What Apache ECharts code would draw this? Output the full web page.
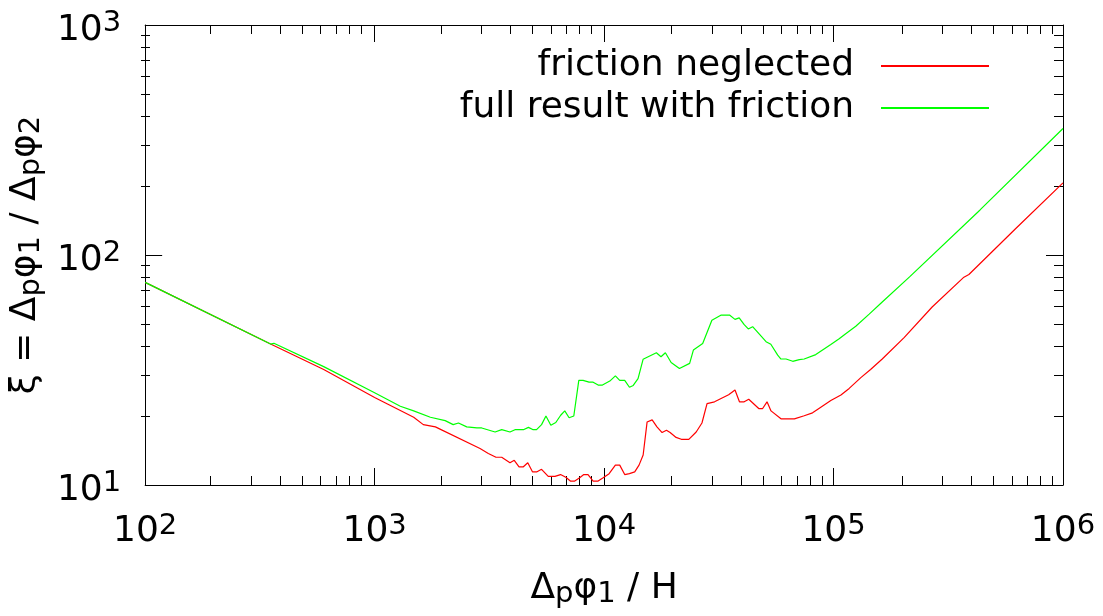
<!DOCTYPE html>
<html>
<head>
<meta charset="utf-8">
<script src="https://cdn.jsdelivr.net/npm/echarts@6/dist/echarts.min.js"></script>
<style>
html,body{margin:0;padding:0;background:#fff;}
#chart{width:1103px;height:616px;}
</style>
</head>
<body>
<div id="chart"></div>
<script>
const seriesNames = ['friction neglected', 'full result with friction'];

const redX = [100, 352, 600, 1000, 1480, 1630, 1840, 2880, 3130, 3380, 3580, 3890, 4060, 4260, 4450, 4650, 4880, 5080, 5340, 5710, 6110, 6460, 6810, 7130, 7450, 7830, 8160, 8510, 8960, 9420, 9910, 10520, 11200, 11700, 12300, 12900, 13600, 14200, 14800, 15400, 16200, 17000, 17900, 18700, 19400, 20600, 21700, 23400, 25200, 26700, 28100, 30300, 34900, 37200, 38900, 40800, 42700, 47200, 49100, 51300, 53400, 59000, 67500, 74500, 81000, 85100, 97300, 107700, 117000, 131500, 145000, 163000, 203000, 269000, 370000, 389000, 621000, 1000000];
const redY = [76, 41, 31.8, 24.0, 19.7, 18.3, 17.9, 14.4, 13.7, 13.2, 13.2, 12.5, 12.8, 12.0, 12.0, 12.5, 11.4, 11.4, 11.7, 10.9, 10.9, 11.1, 10.8, 10.4, 10.4, 10.75, 11.1, 11.1, 10.4, 10.4, 10.75, 11.2, 12.2, 12.2, 11.1, 11.2, 11.4, 12.2, 13.5, 18.8, 19.2, 17.9, 16.9, 17.3, 16.9, 16.1, 15.8, 15.8, 17.0, 18.6, 22.6, 23.0, 24.7, 25.9, 23.0, 23.0, 23.6, 21.5, 21.5, 23.0, 21.0, 19.4, 19.4, 20.0, 20.6, 21.3, 23.3, 24.6, 26.3, 29.3, 31.8, 35.3, 43.7, 59.4, 80.1, 82.3, 130, 206];

const greenX = [100, 352, 364, 600, 1000, 1294, 1480, 1750, 2030, 2200, 2320, 2520, 2790, 2930, 3350, 3580, 3890, 4090, 4450, 4680, 4910, 5080, 5340, 5580, 5860, 6160, 6470, 6740, 7040, 7380, 7760, 8100, 8600, 8960, 9420, 9840, 10590, 11200, 11700, 12300, 12900, 13400, 14060, 14790, 16900, 17700, 18500, 19600, 21300, 23600, 24500, 26900, 29500, 32400, 35200, 37200, 38800, 40800, 42500, 44400, 47500, 50800, 53300, 57100, 59000, 62100, 66400, 70900, 74500, 83700, 97300, 105800, 113000, 125000, 143000, 163000, 215000, 435000, 1000000];
const greenY = [76, 41, 41.3, 32.7, 25.2, 22.0, 21.0, 19.7, 19.05, 18.3, 18.6, 17.9, 17.7, 17.7, 17.0, 17.4, 17.0, 17.4, 17.4, 17.8, 17.4, 17.4, 18.3, 19.95, 18.2, 18.7, 20.1, 21.0, 19.6, 19.95, 28.5, 28.5, 28.0, 28.0, 27.2, 27.2, 28.3, 29.8, 28.5, 28.5, 26.6, 27.1, 29.0, 35.2, 37.6, 36.1, 37.6, 34.1, 32.1, 33.8, 38.6, 41.2, 52.0, 54.8, 54.8, 52.5, 53.3, 49.8, 47.7, 48.8, 45.3, 42.0, 40.9, 36.7, 35.3, 35.3, 34.5, 35.1, 35.3, 36.9, 40.8, 43.2, 45.5, 49.0, 55.3, 62.5, 80.5, 157, 355];

const xMajorTicks = [100, 1000, 10000, 100000, 1000000];
const xMinorTicks = [200,300,400,500,600,700,800,900,2000,3000,4000,5000,6000,7000,8000,9000,20000,30000,40000,50000,60000,70000,80000,90000,200000,300000,400000,500000,600000,700000,800000,900000];
const yMajorTicks = [10, 100, 1000];
const yMinorTicks = [20,30,40,50,60,70,80,90,200,300,400,500,600,700,800,900];

const FONT = 'DejaVu Sans';
const pairs = (xs, ys) => xs.map((x, i) => [x, ys[i]]);
const expLabel = v => '{b|10}{s|' + Math.round(Math.log10(v)) + '}';
const richSupX = {
  b: {fontSize: 36, lineHeight: 40, fontFamily: FONT, color: '#000'},
  s: {fontSize: 29, lineHeight: 16, verticalAlign: 'top', fontFamily: FONT, color: '#000'}
};
const richSupY = {
  b: {fontSize: 36, lineHeight: 40, padding: [12, 0, 0, 0], fontFamily: FONT, color: '#000'},
  s: {fontSize: 29, lineHeight: 16, padding: [4, 0, 0, 0], verticalAlign: 'top', fontFamily: FONT, color: '#000'}
};
const richName = {
  b: {fontSize: 36, lineHeight: 40, fontFamily: FONT, color: '#000'},
  d: {fontSize: 29, lineHeight: 22, verticalAlign: 'bottom', fontFamily: FONT, color: '#000'}
};

function xAx(grid, pos, major) {
  const ax = {
    type: 'log', gridIndex: grid, position: pos, min: 100, max: 1000000,
    axisLine: {show: major, lineStyle: {color: '#000', width: 1}},
    axisTick: {show: true, inside: true, length: major ? 17 : 9,
      customValues: major ? xMajorTicks : xMinorTicks,
      lineStyle: {color: '#000', width: 1}},
    axisLabel: {show: false},
    splitLine: {show: false}, minorTick: {show: false}
  };
  if (grid === 0 && pos === 'bottom') {
    ax.axisLabel = {show: true, customValues: xMajorTicks, formatter: expLabel, rich: richSupX, margin: 27};
    ax.name = '{b|Δ}{d|p}{b|φ}{d|1}{b| / H}';
    ax.nameLocation = 'middle';
    ax.nameGap = 84;
    ax.nameTextStyle = {rich: richName};
  }
  return ax;
}
function yAx(grid, pos, major) {
  const ax = {
    type: 'log', gridIndex: grid, position: pos, min: 10, max: 1000,
    axisLine: {show: major, lineStyle: {color: '#000', width: 1}},
    axisTick: {show: true, inside: true, length: major ? 17 : 9,
      customValues: major ? yMajorTicks : yMinorTicks,
      lineStyle: {color: '#000', width: 1}},
    axisLabel: {show: false},
    splitLine: {show: false}, minorTick: {show: false}
  };
  if (grid === 0 && pos === 'left') {
    ax.axisLabel = {show: true, customValues: yMajorTicks, formatter: expLabel, rich: richSupY, margin: 24};
    ax.name = '{b|ξ = Δ}{d|p}{b|φ}{d|1}{b| / Δ}{d|p}{b|φ}{d|2}';
    ax.nameLocation = 'middle';
    ax.nameGap = 88;
    ax.nameRotate = 90;
    ax.nameTextStyle = {rich: richName};
  }
  return ax;
}

const gridRect = {left: 141, right: 40, top: 25, bottom: 131};
const chart = echarts.init(document.getElementById('chart'));
chart.setOption({
  animation: false,
  backgroundColor: '#fff',
  grid: [Object.assign({}, gridRect), Object.assign({}, gridRect)],
  xAxis: [xAx(0, 'bottom', true), xAx(0, 'top', true), xAx(1, 'bottom', false), xAx(1, 'top', false)],
  yAxis: [yAx(0, 'left', true), yAx(0, 'right', true), yAx(1, 'left', false), yAx(1, 'right', false)],
  legend: {
    orient: 'vertical', right: 108, top: 43, align: 'right',
    itemWidth: 108, itemHeight: 36, itemGap: 6,
    itemStyle: {opacity: 0},
    textStyle: {fontFamily: FONT, fontSize: 36, lineHeight: 36, color: '#000', padding: [0, 22, 0, 0]},
    data: seriesNames
  },
  series: [
    {name: seriesNames[0], type: 'line', xAxisIndex: 0, yAxisIndex: 0, data: pairs(redX, redY),
     symbol: 'none', lineStyle: {color: '#ff0000', width: 1.2}, itemStyle: {color: '#ff0000'}},
    {name: seriesNames[1], type: 'line', xAxisIndex: 0, yAxisIndex: 0, data: pairs(greenX, greenY),
     symbol: 'none', lineStyle: {color: '#00ff00', width: 1.2}, itemStyle: {color: '#00ff00'}}
  ]
});
</script>
</body>
</html>
